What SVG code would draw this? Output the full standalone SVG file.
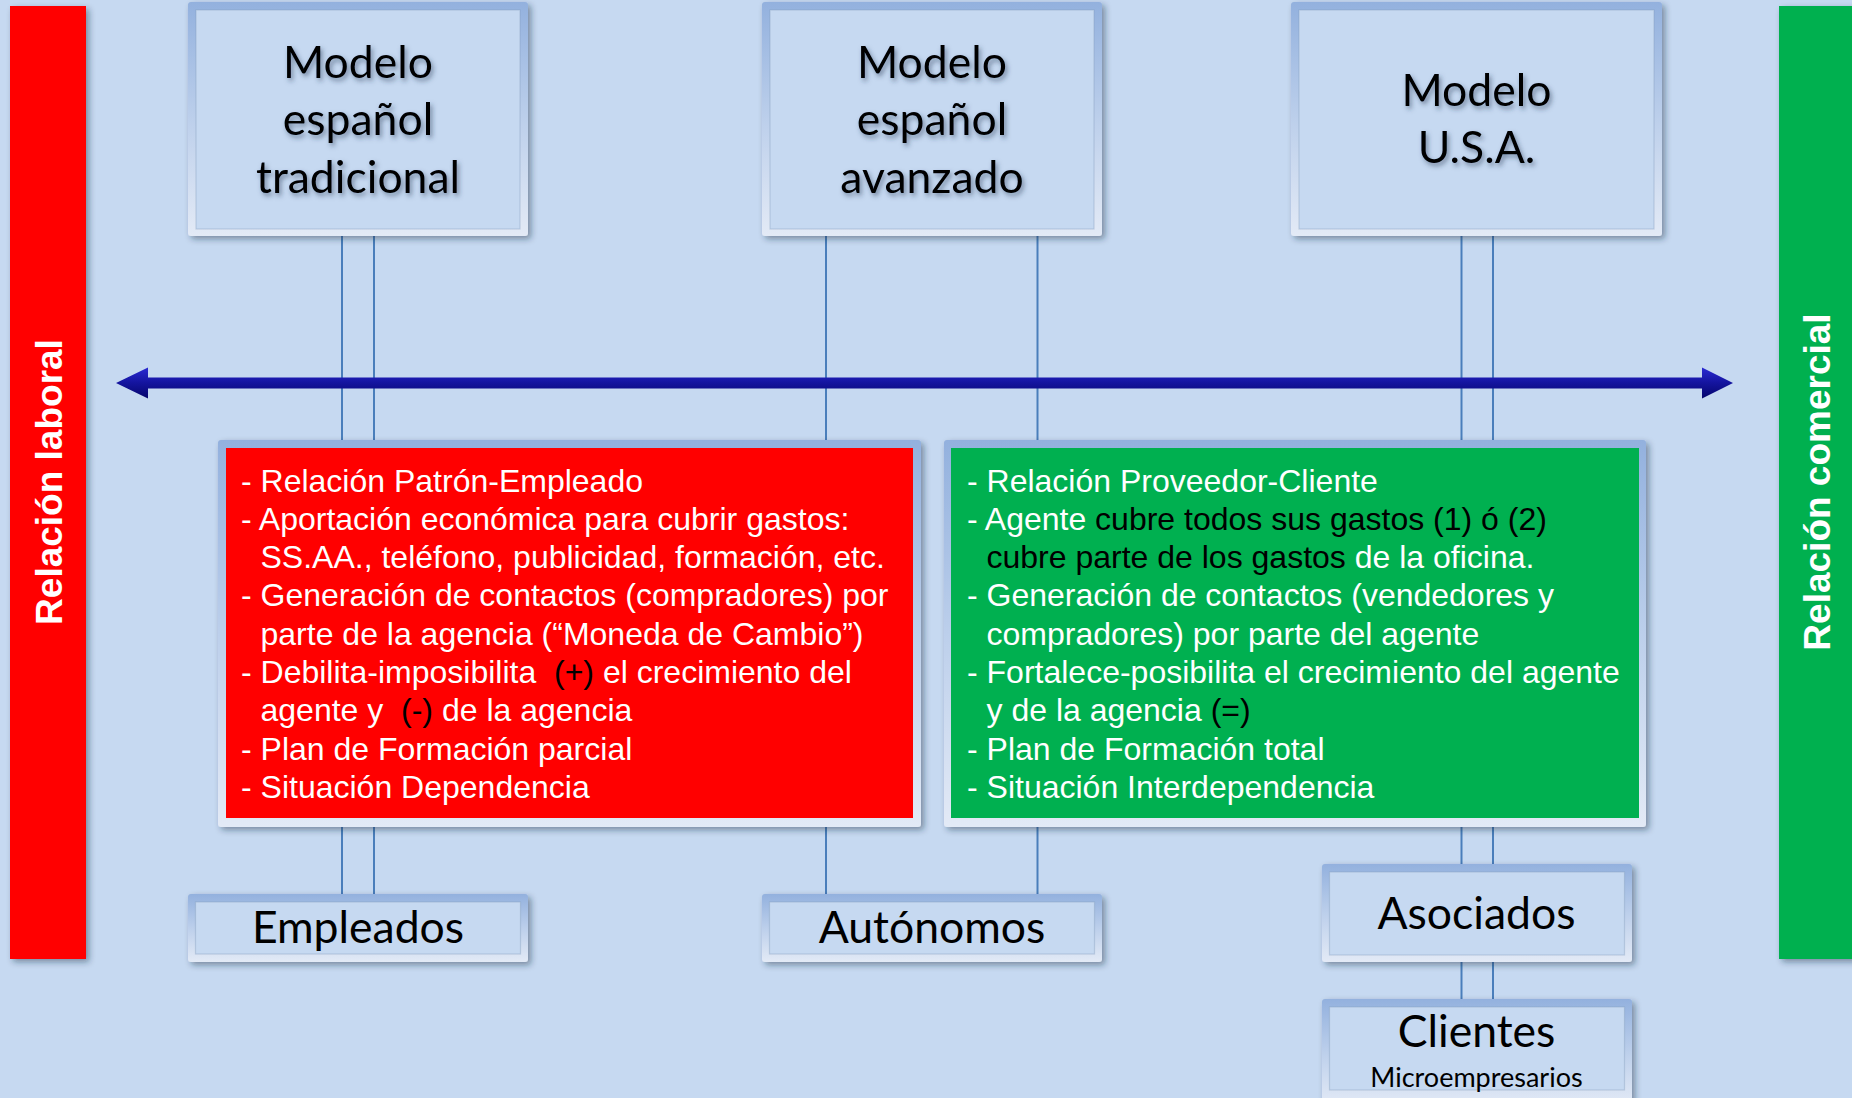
<svg xmlns="http://www.w3.org/2000/svg" width="1852" height="1098" viewBox="0 0 1852 1098">
  <defs>
    <linearGradient id="frameGrad" x1="0" y1="0" x2="0" y2="1">
      <stop offset="0" stop-color="#93b1de"/>
      <stop offset="0.5" stop-color="#bccfeb"/>
      <stop offset="1" stop-color="#e3eaf6"/>
    </linearGradient>
    <linearGradient id="arrowGrad" x1="0" y1="0" x2="0" y2="1">
      <stop offset="0" stop-color="#2a2ad2"/>
      <stop offset="0.5" stop-color="#14149e"/>
      <stop offset="1" stop-color="#06066c"/>
    </linearGradient>
    <filter id="boxShadow" x="-10%" y="-10%" width="125%" height="125%">
      <feDropShadow dx="3" dy="3" stdDeviation="3" flood-color="#1f2d40" flood-opacity="0.45"/>
    </filter>
    <filter id="textShadow" x="-10%" y="-20%" width="125%" height="150%">
      <feDropShadow dx="2" dy="3" stdDeviation="2.5" flood-color="#2a3a55" flood-opacity="0.55"/>
    </filter>
    <style>
      .bg { fill: #c6d9f1; }
      .frame { fill: url(#frameGrad); }
      .inner { fill: #c6d9f1; stroke: #7f97b8; stroke-opacity: 0.35; stroke-width: 1.2; }
      .title { font-family: "Lato", "Carlito", "Open Sans", sans-serif; font-size: 44.5px; fill: #000; text-anchor: middle; }
      .sub { font-family: "Lato", "Carlito", "Open Sans", sans-serif; font-size: 27px; fill: #000; text-anchor: middle; }
      .body { font-family: "Liberation Sans", Arial, sans-serif; font-size: 32px; fill: #ffffff; }
      .dark { fill: #000000; }
      .side { font-family: "Liberation Sans", Arial, sans-serif; font-weight: bold; font-size: 37px; fill: #ffffff; text-anchor: middle; }
      .link { stroke: #4a7ebb; stroke-width: 2; fill: none; }
    </style>
  </defs>

  <rect class="bg" x="0" y="0" width="1852" height="1098"/>

  <!-- side bars -->
  <g id="bar-laboral">
    <rect x="10" y="6" width="76" height="953" fill="#ff0000" filter="url(#boxShadow)"/>
    <text class="side" transform="translate(62,482) rotate(-90)">Relación laboral</text>
  </g>
  <g id="bar-comercial">
    <rect x="1779" y="6" width="80" height="953" fill="#00b050" filter="url(#boxShadow)"/>
    <text class="side" transform="translate(1830,482) rotate(-90)">Relación comercial</text>
  </g>

  <!-- connectors -->
  <g id="connectors">
    <line class="link" x1="342" y1="236" x2="342" y2="440"/>
    <line class="link" x1="374" y1="236" x2="374" y2="440"/>
    <line class="link" x1="342" y1="827" x2="342" y2="894"/>
    <line class="link" x1="374" y1="827" x2="374" y2="894"/>
    <line class="link" x1="826" y1="236" x2="826" y2="440"/>
    <line class="link" x1="1037.5" y1="236" x2="1037.5" y2="440"/>
    <line class="link" x1="826" y1="827" x2="826" y2="894"/>
    <line class="link" x1="1037.5" y1="827" x2="1037.5" y2="894"/>
    <line class="link" x1="1461.5" y1="236" x2="1461.5" y2="440"/>
    <line class="link" x1="1493" y1="236" x2="1493" y2="440"/>
    <line class="link" x1="1461.5" y1="827" x2="1461.5" y2="864"/>
    <line class="link" x1="1493" y1="827" x2="1493" y2="864"/>
    <line class="link" x1="1461.5" y1="962" x2="1461.5" y2="999"/>
    <line class="link" x1="1493" y1="962" x2="1493" y2="999"/>
    <!-- double-headed axis arrow -->
    <polygon points="116,383 148,367.5 148,377.5 1702,377.5 1702,367.5 1733,383 1702,398.5 1702,388.5 148,388.5 148,398.5" fill="url(#arrowGrad)"/>
  </g>

  <!-- top model boxes -->
  <g id="modelo-tradicional">
    <rect class="frame" x="188" y="2" width="340" height="234" rx="3" filter="url(#boxShadow)"/>
    <rect class="inner" x="196" y="10" width="324" height="219"/>
    <g filter="url(#textShadow)">
      <text class="title" x="358" y="78">Modelo</text>
      <text class="title" x="358" y="135">español</text>
      <text class="title" x="358" y="193">tradicional</text>
    </g>
  </g>
  <g id="modelo-avanzado">
    <rect class="frame" x="762" y="2" width="340" height="234" rx="3" filter="url(#boxShadow)"/>
    <rect class="inner" x="770" y="10" width="324" height="219"/>
    <g filter="url(#textShadow)">
      <text class="title" x="932" y="78">Modelo</text>
      <text class="title" x="932" y="135">español</text>
      <text class="title" x="932" y="193">avanzado</text>
    </g>
  </g>
  <g id="modelo-usa">
    <rect class="frame" x="1291" y="2" width="371" height="234" rx="3" filter="url(#boxShadow)"/>
    <rect class="inner" x="1299" y="10" width="355" height="219"/>
    <g filter="url(#textShadow)">
      <text class="title" x="1476.5" y="106">Modelo</text>
      <text class="title" x="1476.5" y="163">U.S.A.</text>
    </g>
  </g>

  <!-- relationship detail boxes -->
  <g id="detalle-laboral">
    <rect class="frame" x="218" y="440" width="703" height="387" rx="3" filter="url(#boxShadow)"/>
    <rect x="226" y="448" width="687" height="370" fill="#ff0000"/>
    <text class="body" xml:space="preserve">
      <tspan x="241" y="491.5">- Relación Patrón-Empleado</tspan>
      <tspan x="241" y="529.8">- Aportación económica para cubrir gastos:</tspan>
      <tspan x="260.5" y="568.1">SS.AA., teléfono, publicidad, formación, etc.</tspan>
      <tspan x="241" y="606.4">- Generación de contactos (compradores) por</tspan>
      <tspan x="260.5" y="644.7">parte de la agencia (“Moneda de Cambio”)</tspan>
      <tspan x="241" y="683">- Debilita-imposibilita  <tspan class="dark">(+)</tspan> el crecimiento del</tspan>
      <tspan x="260.5" y="721.3">agente y  <tspan class="dark">(-)</tspan> de la agencia</tspan>
      <tspan x="241" y="759.6">- Plan de Formación parcial</tspan>
      <tspan x="241" y="797.9">- Situación Dependencia</tspan>
    </text>
  </g>
  <g id="detalle-comercial">
    <rect class="frame" x="944" y="440" width="702" height="387" rx="3" filter="url(#boxShadow)"/>
    <rect x="951" y="448" width="688" height="370" fill="#00b050"/>
    <text class="body" xml:space="preserve">
      <tspan x="967" y="491.5">- Relación Proveedor-Cliente</tspan>
      <tspan x="967" y="529.8">- Agente <tspan class="dark">cubre todos sus gastos (1) ó (2)</tspan></tspan>
      <tspan x="986.5" y="568.1"><tspan class="dark">cubre parte de los gastos</tspan> de la oficina.</tspan>
      <tspan x="967" y="606.4">- Generación de contactos (vendedores y</tspan>
      <tspan x="986.5" y="644.7">compradores) por parte del agente</tspan>
      <tspan x="967" y="683">- Fortalece-posibilita el crecimiento del agente</tspan>
      <tspan x="986.5" y="721.3">y de la agencia <tspan class="dark">(=)</tspan></tspan>
      <tspan x="967" y="759.6">- Plan de Formación total</tspan>
      <tspan x="967" y="797.9">- Situación Interdependencia</tspan>
    </text>
  </g>

  <!-- bottom boxes -->
  <g id="empleados">
    <rect class="frame" x="188" y="894" width="340" height="68" rx="3" filter="url(#boxShadow)"/>
    <rect class="inner" x="195.5" y="902" width="325" height="52"/>
    <text class="title" x="358" y="943">Empleados</text>
  </g>
  <g id="autonomos">
    <rect class="frame" x="762" y="894" width="340" height="68" rx="3" filter="url(#boxShadow)"/>
    <rect class="inner" x="769.5" y="902" width="325" height="52"/>
    <text class="title" x="932" y="943">Autónomos</text>
  </g>
  <g id="asociados">
    <rect class="frame" x="1322" y="864" width="310" height="98" rx="3" filter="url(#boxShadow)"/>
    <rect class="inner" x="1329.5" y="872" width="295" height="83"/>
    <text class="title" x="1476.5" y="929">Asociados</text>
  </g>
  <g id="clientes">
    <rect class="frame" x="1322" y="999" width="310" height="106" rx="3" filter="url(#boxShadow)"/>
    <rect class="inner" x="1329.5" y="1007" width="295" height="83"/>
    <text class="title" x="1476.5" y="1047">Clientes</text>
    <text class="sub" x="1476.5" y="1087">Microempresarios</text>
  </g>
</svg>
